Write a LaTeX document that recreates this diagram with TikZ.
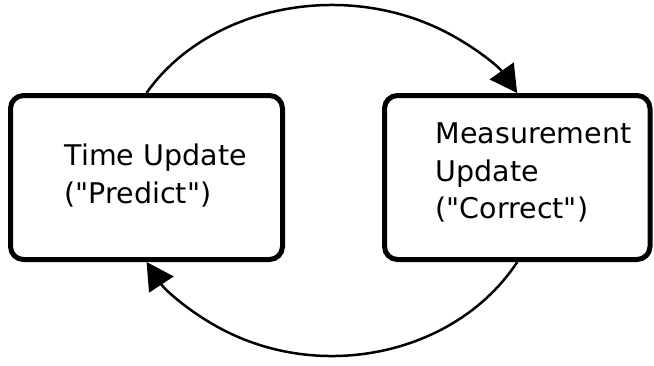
\documentclass[tikz,border=0pt]{standalone}
\usepackage{fontspec}
\setmainfont{DejaVu Sans}[Ligatures=TeXOff]
\usetikzlibrary{arrows.meta}

\tikzset{
  stagebox/.style={draw=black, fill=white, line width=5pt, rounded corners=13pt,
    minimum height=164pt, inner sep=0pt},
  stagetext/.style={anchor=base west, align=left, inner sep=0pt,
    font=\fontsize{28.5}{37.5}\selectfont},
  cycle/.style={line width=2.5pt, -{Triangle[length=27pt,width=29pt]}}
}

\begin{document}
\begin{tikzpicture}[x=1pt,y=1pt]
  \useasboundingbox (0,0) rectangle (654,-365);

  % the two stages of the filter loop
  \node[stagebox, minimum width=272pt] (predict) at (146.5,-177.5) {};
  \node[stagebox, minimum width=265.5pt] (correct) at (517.25,-177.5) {};

  % labels (anchored at the baseline of their last line)
  \node[stagetext] (predictlabel) at (64.5,-203.3) {Time Update\\("Predict")};
  \node[stagetext] (correctlabel) at (435.5,-218.5) {Measurement\\Update\\("Correct")};

  % cycle arcs between the stages
  \draw[cycle] (predict.north) arc[start angle=150, end angle=30, x radius=214pt, y radius=176pt];
  \draw[cycle] (correct.south) arc[start angle=-30, end angle=-150, x radius=214pt, y radius=188pt];
\end{tikzpicture}
\end{document}
